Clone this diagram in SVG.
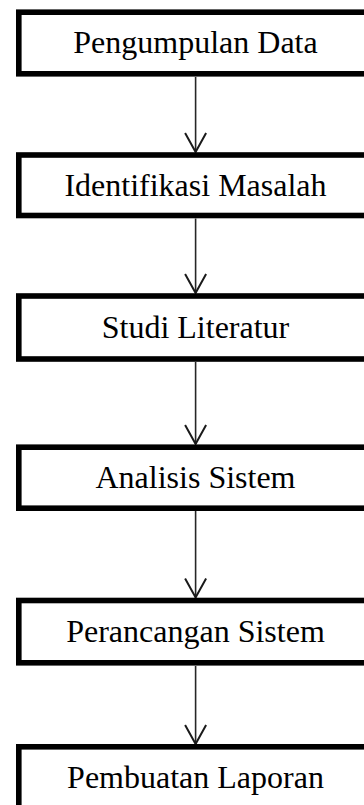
<svg xmlns="http://www.w3.org/2000/svg" width="364" height="805" viewBox="0 0 364 805">
<defs>
<style>
.box{fill:#fff;stroke:#000;stroke-width:5.6}
.lbl{font-family:"Liberation Serif","Times New Roman",serif;font-size:32px;fill:#000;text-anchor:middle}
.conn{stroke:#262626;stroke-width:1.6;fill:none}
</style>
<marker id="arr" markerUnits="userSpaceOnUse" viewBox="-22 -13 24 26" refX="0" refY="0" markerWidth="24" markerHeight="26" orient="auto">
<path d="M-19,-10.5 L0,0 L-19,10.5" fill="none" stroke="#1a1a1a" stroke-width="2"/>
</marker>
</defs>
<rect width="364" height="805" fill="#fff"/>
<g id="connectors">
<line class="conn" x1="195.6" y1="77" x2="195.6" y2="152" marker-end="url(#arr)"/>
<line class="conn" x1="195.6" y1="218.5" x2="195.6" y2="293" marker-end="url(#arr)"/>
<line class="conn" x1="195.6" y1="362" x2="195.6" y2="444" marker-end="url(#arr)"/>
<line class="conn" x1="195.6" y1="511" x2="195.6" y2="597.5" marker-end="url(#arr)"/>
<line class="conn" x1="195.6" y1="666" x2="195.6" y2="744" marker-end="url(#arr)"/>
</g>
<g id="n1"><rect class="box" x="18.8" y="12.2" width="354" height="61.6"/><text class="lbl" x="195.5" y="53.3">Pengumpulan Data</text></g>
<g id="n2"><rect class="box" x="18.8" y="155" width="354" height="60.5"/><text class="lbl" x="195.5" y="195.5">Identifikasi Masalah</text></g>
<g id="n3"><rect class="box" x="18.8" y="296" width="354" height="63"/><text class="lbl" x="195.5" y="337.5">Studi Literatur</text></g>
<g id="n4"><rect class="box" x="18.8" y="447.2" width="354" height="61"/><text class="lbl" x="195.5" y="487.5">Analisis Sistem</text></g>
<g id="n5"><rect class="box" x="18.8" y="600.5" width="354" height="62.3"/><text class="lbl" x="195.5" y="642">Perancangan Sistem</text></g>
<g id="n6"><rect class="box" x="18.8" y="746.8" width="354" height="70"/><text class="lbl" x="195.5" y="788.3">Pembuatan Laporan</text></g>
</svg>
